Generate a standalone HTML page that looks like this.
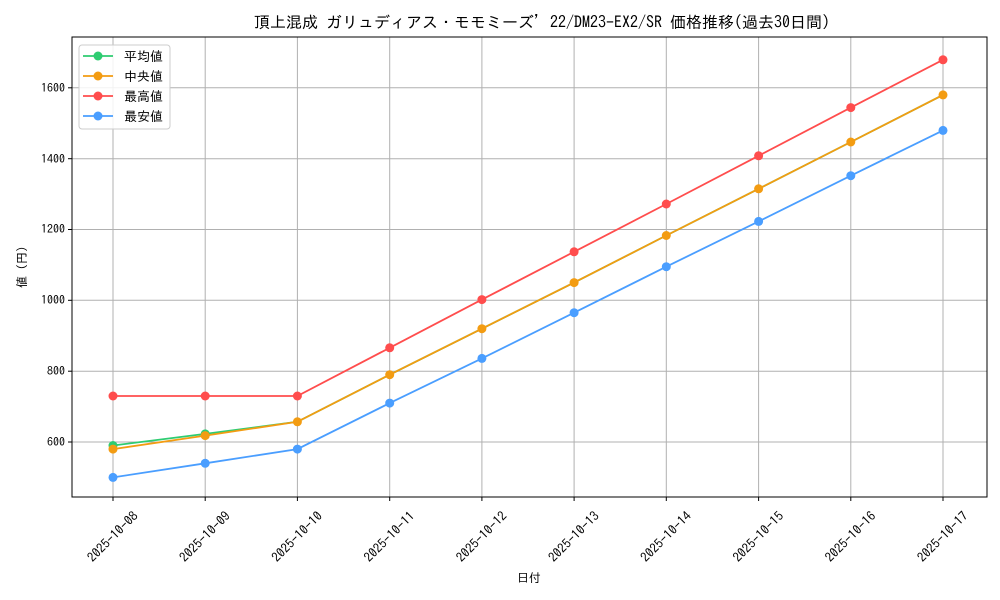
<!DOCTYPE html>
<html><head><meta charset="utf-8"><style>body{margin:0;background:#fff}svg{display:block}text{font-family:"IPAGothic","Liberation Sans","Noto Sans CJK JP",sans-serif;fill:#000}</style></head><body>
<svg width="1000" height="600" xmlns="http://www.w3.org/2000/svg">
<g stroke="#b0b0b0" stroke-width="1">
<line x1="113" y1="37" x2="113" y2="497"/><line x1="205.2" y1="37" x2="205.2" y2="497"/><line x1="297.4" y1="37" x2="297.4" y2="497"/><line x1="389.7" y1="37" x2="389.7" y2="497"/><line x1="481.9" y1="37" x2="481.9" y2="497"/><line x1="574.1" y1="37" x2="574.1" y2="497"/><line x1="666.3" y1="37" x2="666.3" y2="497"/><line x1="758.6" y1="37" x2="758.6" y2="497"/><line x1="850.8" y1="37" x2="850.8" y2="497"/><line x1="943" y1="37" x2="943" y2="497"/>
<line x1="72" y1="442" x2="987" y2="442"/><line x1="72" y1="371.2" x2="987" y2="371.2"/><line x1="72" y1="300.3" x2="987" y2="300.3"/><line x1="72" y1="229.5" x2="987" y2="229.5"/><line x1="72" y1="158.7" x2="987" y2="158.7"/><line x1="72" y1="87.8" x2="987" y2="87.8"/>
</g>
<rect x="72" y="37" width="915" height="460" fill="none" stroke="#000" stroke-width="1"/>
<g stroke="#000"><line x1="68" y1="442" x2="72" y2="442"/><line x1="68" y1="371.2" x2="72" y2="371.2"/><line x1="68" y1="300.3" x2="72" y2="300.3"/><line x1="68" y1="229.5" x2="72" y2="229.5"/><line x1="68" y1="158.7" x2="72" y2="158.7"/><line x1="68" y1="87.8" x2="72" y2="87.8"/>
<line x1="113" y1="497" x2="113" y2="501"/><line x1="205.2" y1="497" x2="205.2" y2="501"/><line x1="297.4" y1="497" x2="297.4" y2="501"/><line x1="389.7" y1="497" x2="389.7" y2="501"/><line x1="481.9" y1="497" x2="481.9" y2="501"/><line x1="574.1" y1="497" x2="574.1" y2="501"/><line x1="666.3" y1="497" x2="666.3" y2="501"/><line x1="758.6" y1="497" x2="758.6" y2="501"/><line x1="850.8" y1="497" x2="850.8" y2="501"/><line x1="943" y1="497" x2="943" y2="501"/></g>
<g font-size="12" text-anchor="end"><text x="65" y="446">600</text><text x="65" y="375">800</text><text x="65" y="304">1000</text><text x="65" y="233">1200</text><text x="65" y="163">1400</text><text x="65" y="92">1600</text></g>
<g font-size="13" text-anchor="middle">
<text transform="translate(113,537) rotate(-45)" dy="4">2025-10-08</text><text transform="translate(205.2,537) rotate(-45)" dy="4">2025-10-09</text><text transform="translate(297.4,537) rotate(-45)" dy="4">2025-10-10</text><text transform="translate(389.7,537) rotate(-45)" dy="4">2025-10-11</text><text transform="translate(481.9,537) rotate(-45)" dy="4">2025-10-12</text><text transform="translate(574.1,537) rotate(-45)" dy="4">2025-10-13</text><text transform="translate(666.3,537) rotate(-45)" dy="4">2025-10-14</text><text transform="translate(758.6,537) rotate(-45)" dy="4">2025-10-15</text><text transform="translate(850.8,537) rotate(-45)" dy="4">2025-10-16</text><text transform="translate(943,537) rotate(-45)" dy="4">2025-10-17</text>
</g>
<text x="529" y="582" font-size="12" text-anchor="middle">日付</text>
<text transform="translate(26,267) rotate(-90)" font-size="12" text-anchor="middle">値 (円)</text>
<text x="542" y="28" font-size="16" text-anchor="middle">頂上混成 ガリュディアス・モモミーズ’22/DM23-EX2/SR 価格推移(過去30日間)</text>
<g fill="none" stroke-width="1.8">
<polyline stroke="#2ecc71" points="113,445.5 205.2,433.9 297.4,421.8 389.7,374.7 481.9,328.7 574.1,282.6 666.3,235.5 758.6,188.8 850.8,142 943,94.9"/>
<polyline stroke="#f39c12" points="113,449.1 205.2,435.6 297.4,421.8 389.7,374.7 481.9,328.7 574.1,282.6 666.3,235.5 758.6,188.8 850.8,142 943,94.9"/>
<polyline stroke="#ff4d4d" points="113,396 205.2,396 297.4,396 389.7,347.8 481.9,299.6 574.1,251.8 666.3,204 758.6,155.8 850.8,107.6 943,59.8"/>
<polyline stroke="#4a9eff" points="113,477.4 205.2,463.3 297.4,449.1 389.7,403.1 481.9,358.4 574.1,312.7 666.3,266.7 758.6,221.4 850.8,175.7 943,130.4"/>
</g>
<g fill="#2ecc71"><circle cx="113" cy="445.5" r="4.5"/><circle cx="205.2" cy="433.9" r="4.5"/></g>
<g fill="#f39c12"><circle cx="113" cy="449.1" r="4.5"/><circle cx="205.2" cy="435.6" r="4.5"/><circle cx="297.4" cy="421.8" r="4.5"/><circle cx="389.7" cy="374.7" r="4.5"/><circle cx="481.9" cy="328.7" r="4.5"/><circle cx="574.1" cy="282.6" r="4.5"/><circle cx="666.3" cy="235.5" r="4.5"/><circle cx="758.6" cy="188.8" r="4.5"/><circle cx="850.8" cy="142" r="4.5"/><circle cx="943" cy="94.9" r="4.5"/></g>
<g fill="#ff4d4d"><circle cx="113" cy="396" r="4.5"/><circle cx="205.2" cy="396" r="4.5"/><circle cx="297.4" cy="396" r="4.5"/><circle cx="389.7" cy="347.8" r="4.5"/><circle cx="481.9" cy="299.6" r="4.5"/><circle cx="574.1" cy="251.8" r="4.5"/><circle cx="666.3" cy="204" r="4.5"/><circle cx="758.6" cy="155.8" r="4.5"/><circle cx="850.8" cy="107.6" r="4.5"/><circle cx="943" cy="59.8" r="4.5"/></g>
<g fill="#4a9eff"><circle cx="113" cy="477.4" r="4.5"/><circle cx="205.2" cy="463.3" r="4.5"/><circle cx="297.4" cy="449.1" r="4.5"/><circle cx="389.7" cy="403.1" r="4.5"/><circle cx="481.9" cy="358.4" r="4.5"/><circle cx="574.1" cy="312.7" r="4.5"/><circle cx="666.3" cy="266.7" r="4.5"/><circle cx="758.6" cy="221.4" r="4.5"/><circle cx="850.8" cy="175.7" r="4.5"/><circle cx="943" cy="130.4" r="4.5"/></g>
<rect x="79" y="45" width="91" height="84" rx="3" fill="#fff" fill-opacity="0.85" stroke="#ccc"/>
<g stroke-width="1.8">
<line x1="83" y1="56" x2="113" y2="56" stroke="#2ecc71"/><circle cx="98" cy="56" r="4.5" fill="#2ecc71"/>
<line x1="83" y1="76" x2="113" y2="76" stroke="#f39c12"/><circle cx="98" cy="76" r="4.5" fill="#f39c12"/>
<line x1="83" y1="96" x2="113" y2="96" stroke="#ff4d4d"/><circle cx="98" cy="96" r="4.5" fill="#ff4d4d"/>
<line x1="83" y1="116" x2="113" y2="116" stroke="#4a9eff"/><circle cx="98" cy="116" r="4.5" fill="#4a9eff"/>
</g>
<g font-size="13"><text x="124" y="61">平均値</text><text x="124" y="81">中央値</text><text x="124" y="101">最高値</text><text x="124" y="121">最安値</text></g>
</svg>
</body></html>
